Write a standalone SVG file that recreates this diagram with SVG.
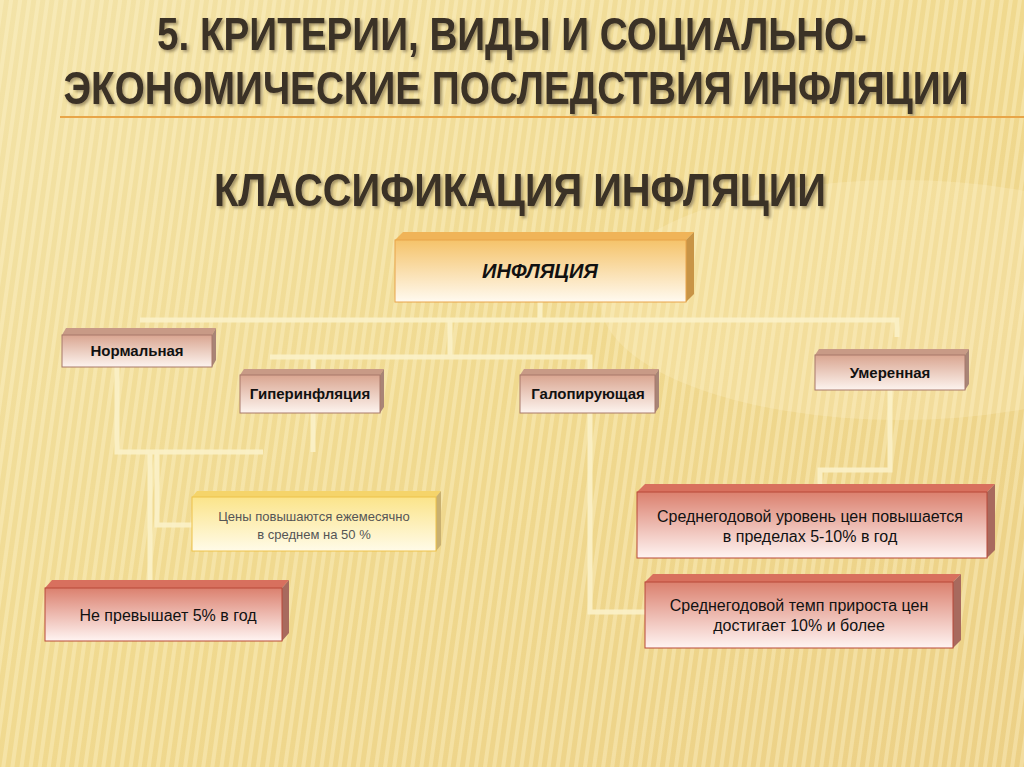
<svg xmlns="http://www.w3.org/2000/svg" width="1024" height="767" viewBox="0 0 1024 767">
<defs>
<linearGradient id="bg" x1="0" y1="0" x2="1" y2="1"><stop offset="0" stop-color="#f3e3a8"/><stop offset="0.5" stop-color="#f0d98f"/><stop offset="1" stop-color="#ecd086"/></linearGradient>
<pattern id="str" width="9" height="10" patternUnits="userSpaceOnUse" patternTransform="rotate(8)"><rect width="4" height="10" fill="#fff6d0" opacity="0.35"/></pattern>
<linearGradient id="gOr" x1="0" y1="0" x2="0" y2="1"><stop offset="0" stop-color="#f5c36a"/><stop offset="1" stop-color="#fffaf0"/></linearGradient>
<linearGradient id="gBr" x1="0" y1="0" x2="0" y2="1"><stop offset="0" stop-color="#d9a590"/><stop offset="1" stop-color="#fdf4ef"/></linearGradient>
<linearGradient id="gRd" x1="0" y1="0" x2="0" y2="1"><stop offset="0" stop-color="#db806e"/><stop offset="1" stop-color="#fff4f2"/></linearGradient>
<linearGradient id="gYl" x1="0" y1="0" x2="0" y2="1"><stop offset="0" stop-color="#fbe48a"/><stop offset="1" stop-color="#fffbe8"/></linearGradient>
<filter id="sh"><feDropShadow dx="2" dy="2" stdDeviation="1.5" flood-color="#6b5a3a" flood-opacity="0.6"/></filter>
</defs>
<style>
.t{font-family:"Liberation Sans",Arial,sans-serif;fill:#3a3027;font-size:46px;font-weight:bold;text-anchor:middle;filter:url(#sh)}
.lb{font-family:"Liberation Sans",Arial,sans-serif;fill:#111;text-anchor:middle;font-size:15px;font-weight:bold}
.tx{font-family:"Liberation Sans",Arial,sans-serif;fill:#111;text-anchor:middle;font-size:16px}
.c{fill:none;stroke:#fbf1c8;stroke-width:5;opacity:0.9}
.side{fill:#a88476}
.top{fill:#c89a86}
</style>
<rect width="1024" height="767" fill="url(#bg)"/>
<rect width="1024" height="767" fill="url(#str)"/>
<ellipse cx="900" cy="300" rx="300" ry="120" fill="#fff3cc" opacity="0.25"/>
<text class="t" x="512" y="50" textLength="710" lengthAdjust="spacingAndGlyphs">5. КРИТЕРИИ, ВИДЫ И СОЦИАЛЬНО-</text>
<text class="t" x="516" y="104" textLength="905" lengthAdjust="spacingAndGlyphs">ЭКОНОМИЧЕСКИЕ ПОСЛЕДСТВИЯ ИНФЛЯЦИИ</text>
<line x1="60" y1="117" x2="1024" y2="117" stroke="#e8a548" stroke-width="2"/>
<text class="t" x="520" y="206" textLength="612" lengthAdjust="spacingAndGlyphs">КЛАССИФИКАЦИЯ ИНФЛЯЦИИ</text>
<g id="connectors">
<path class="c" d="M540 302V320M140 320H897V337"/>
<path class="c" d="M450 320V357M270 357H590V375M313 357V375"/>
<path class="c" d="M117 367V452H263M313 413V452M150 452V588M157 452V525H192"/>
<path class="c" d="M890 390V470H820V492"/>
<path class="c" d="M590 413V612H645"/>
</g>
<g id="n-infl"><path d="M395 240l8-8h291l-8 8z" fill="#f0b458"/><path d="M686 240l8-8v62l-8 8z" fill="#c89446"/><rect x="395" y="240" width="291" height="62" fill="url(#gOr)" stroke="#e8a44a"/><text class="lb" x="540" y="278" style="font-size:20px;font-style:italic">ИНФЛЯЦИЯ</text></g>
<g id="n-norm"><path d="M62 335l4-7h150l-4 7z" class="top"/><path d="M212 335l4-7v32l-4 7z" class="side"/><rect x="62" y="335" width="150" height="32" fill="url(#gBr)" stroke="#a8786a"/><text class="lb" x="137" y="356">Нормальная</text></g>
<g id="n-hyper"><path d="M240 375l4-6h140l-4 6z" class="top"/><path d="M380 375l4-6v38l-4 6z" class="side"/><rect x="240" y="375" width="140" height="38" fill="url(#gBr)" stroke="#a8786a"/><text class="lb" x="310" y="399">Гиперинфляция</text></g>
<g id="n-galop"><path d="M520 375l4-6h135l-4 6z" class="top"/><path d="M655 375l4-6v38l-4 6z" class="side"/><rect x="520" y="375" width="135" height="38" fill="url(#gBr)" stroke="#a8786a"/><text class="lb" x="588" y="399">Галопирующая</text></g>
<g id="n-umer"><path d="M815 355l4-6h150l-4 6z" class="top"/><path d="M965 355l4-6v35l-4 6z" class="side"/><rect x="815" y="355" width="150" height="35" fill="url(#gBr)" stroke="#a8786a"/><text class="lb" x="890" y="378">Умеренная</text></g>
<g id="n-ceny"><path d="M192 497l5-6h244l-5 6z" fill="#f5d46a"/><path d="M436 497l5-6v54l-5 6z" fill="#c9b070"/><rect x="192" y="497" width="244" height="54" fill="url(#gYl)" stroke="#eec24a"/><text class="tx" x="314" y="521" style="font-size:13px;fill:#555">Цены повышаются ежемесячно</text><text class="tx" x="314" y="539" style="font-size:13px;fill:#555">в среднем на 50 %</text></g>
<g id="n-ne"><path d="M45 588l7-8h237l-7 8z" fill="#d8705e"/><path d="M282 588l7-8v53l-7 8z" fill="#a86a5e"/><rect x="45" y="588" width="237" height="53" fill="url(#gRd)" stroke="#b84838"/><text class="tx" x="168" y="621">Не превышает 5% в год</text></g>
<g id="n-sr1"><path d="M637 492l8-8h350l-8 8z" fill="#d8705e"/><path d="M987 492l8-8v66l-8 8z" fill="#a86a5e"/><rect x="637" y="492" width="350" height="66" fill="url(#gRd)" stroke="#b84838"/><text class="tx" x="810" y="522">Среднегодовой уровень цен повышается</text><text class="tx" x="810" y="542">в пределах 5-10% в год</text></g>
<g id="n-sr2"><path d="M645 582l8-8h308l-8 8z" fill="#d8705e"/><path d="M953 582l8-8v66l-8 8z" fill="#a86a5e"/><rect x="645" y="582" width="308" height="66" fill="url(#gRd)" stroke="#b84838"/><text class="tx" x="799" y="611">Среднегодовой темп прироста цен</text><text class="tx" x="799" y="631">достигает 10% и более</text></g>
</svg>
